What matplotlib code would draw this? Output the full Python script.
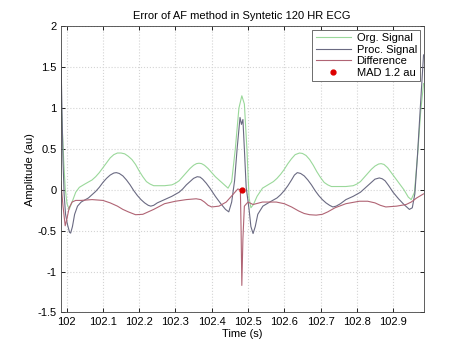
import matplotlib
matplotlib.use('Agg')
import matplotlib.pyplot as plt

plt.rcParams['font.family'] = ['Liberation Sans', 'DejaVu Sans']

# Org. Signal (green)
org_t = [101.984, 101.988, 101.992, 101.996, 102.001, 102.007, 102.015, 102.025, 102.035,
         102.05, 102.07, 102.08, 102.09, 102.10, 102.11, 102.12, 102.13, 102.14, 102.15,
         102.16, 102.17, 102.18, 102.19, 102.20, 102.21, 102.22, 102.23, 102.24, 102.27,
         102.29, 102.30, 102.31, 102.32, 102.33, 102.34, 102.35, 102.358, 102.365, 102.372,
         102.38, 102.39, 102.40, 102.41, 102.42, 102.435, 102.445, 102.455, 102.465,
         102.475, 102.483, 102.49, 102.497, 102.503, 102.508, 102.515, 102.525, 102.54,
         102.555, 102.57, 102.58, 102.59, 102.60, 102.61, 102.62, 102.63, 102.642, 102.65,
         102.66, 102.67, 102.68, 102.69, 102.70, 102.71, 102.72, 102.73, 102.77, 102.79,
         102.80, 102.81, 102.82, 102.83, 102.84, 102.85, 102.86, 102.867, 102.875,
         102.885, 102.895, 102.905, 102.915, 102.93, 102.942, 102.95, 102.959, 102.968,
         102.976, 102.984]
org_v = [1.17, 0.75, 0.35, 0.02, -0.17, -0.24, -0.15, -0.03, 0.03,
         0.07, 0.12, 0.16, 0.21, 0.27, 0.33, 0.39, 0.43, 0.45, 0.45,
         0.44, 0.41, 0.37, 0.31, 0.23, 0.16, 0.10, 0.07, 0.05, 0.05,
         0.06, 0.08, 0.11, 0.16, 0.21, 0.26, 0.30, 0.32, 0.325, 0.32,
         0.30, 0.26, 0.21, 0.16, 0.12, 0.06, 0.02, 0.1, 0.5,
         1.0, 1.15, 1.05, 0.5, -0.1, -0.22, -0.18, -0.08, 0.02,
         0.06, 0.10, 0.14, 0.19, 0.25, 0.32, 0.38, 0.43, 0.45, 0.445,
         0.42, 0.37, 0.30, 0.22, 0.15, 0.09, 0.06, 0.04, 0.04, 0.05,
         0.07, 0.10, 0.15, 0.20, 0.25, 0.29, 0.315, 0.32, 0.31,
         0.27, 0.21, 0.15, 0.09, 0.0, -0.09, -0.12, -0.03, 0.45,
         0.95, 1.3]

# Proc. Signal (dark gray-blue)
proc_t = [101.984, 101.987, 101.990, 101.993, 101.997, 102.002, 102.008, 102.011, 102.016,
          102.022, 102.03, 102.04, 102.06, 102.08, 102.09, 102.10, 102.11, 102.12, 102.13,
          102.137, 102.145, 102.155, 102.165, 102.175, 102.185, 102.195, 102.205, 102.215,
          102.225, 102.232, 102.24, 102.25, 102.27, 102.29, 102.31, 102.32, 102.33, 102.34,
          102.35, 102.36, 102.368, 102.375, 102.385, 102.395, 102.41, 102.425, 102.438,
          102.447, 102.455, 102.463, 102.47, 102.478, 102.482, 102.486, 102.49, 102.495,
          102.503, 102.508, 102.514, 102.52, 102.527, 102.541, 102.56, 102.58, 102.59,
          102.60, 102.61, 102.62, 102.628, 102.636, 102.645, 102.655, 102.665, 102.675,
          102.685, 102.695, 102.705, 102.715, 102.725, 102.734, 102.743, 102.755, 102.77,
          102.79, 102.81, 102.82, 102.83, 102.84, 102.85, 102.862, 102.87, 102.878,
          102.888, 102.90, 102.915, 102.93, 102.945, 102.953, 102.96, 102.967, 102.975,
          102.984]
proc_v = [1.70, 1.0, 0.35, -0.05, -0.3, -0.42, -0.52, -0.53, -0.45,
          -0.3, -0.2, -0.15, -0.1, -0.02, 0.03, 0.09, 0.14, 0.18, 0.205,
          0.21, 0.2, 0.17, 0.12, 0.06, -0.01, -0.07, -0.12, -0.16,
          -0.19, -0.2, -0.19, -0.16, -0.12, -0.08, -0.03, 0.01, 0.06, 0.1,
          0.14, 0.16, 0.155, 0.13, 0.08, 0.02, -0.08, -0.17, -0.24,
          -0.27, -0.15, 0.11, 0.5, 0.885, 0.80, 0.86, 0.5, 0.03,
          -0.24, -0.45, -0.535, -0.45, -0.3, -0.2, -0.15, -0.1, -0.06,
          -0.01, 0.05, 0.12, 0.18, 0.21, 0.2, 0.17, 0.12, 0.06,
          -0.01, -0.07, -0.12, -0.16, -0.19, -0.21, -0.2, -0.17, -0.12,
          -0.08, -0.03, 0.01, 0.05, 0.09, 0.13, 0.145, 0.135, 0.11,
          0.05, -0.03, -0.11, -0.18, -0.24, -0.22, -0.05, 0.4, 1.0,
          1.65]

# Difference (muted red)
diff_t = [101.984, 101.990, 101.996, 102.001, 102.007, 102.015, 102.025, 102.04, 102.07,
          102.10, 102.12, 102.14, 102.155, 102.17, 102.19, 102.21, 102.225, 102.24, 102.27,
          102.30, 102.33, 102.357, 102.37, 102.38, 102.39, 102.40, 102.42, 102.44, 102.46,
          102.472, 102.479, 102.481, 102.483, 102.486, 102.49, 102.50, 102.514, 102.54,
          102.578, 102.60, 102.62, 102.64, 102.655, 102.67, 102.688, 102.705, 102.72,
          102.74, 102.77, 102.807, 102.83, 102.85, 102.865, 102.88, 102.91, 102.936, 102.95,
          102.965, 102.984]
diff_v = [0.1, -0.2, -0.44, -0.35, -0.22, -0.15, -0.13, -0.13, -0.12,
          -0.13, -0.16, -0.2, -0.24, -0.27, -0.305, -0.3, -0.27, -0.24, -0.17,
          -0.14, -0.12, -0.11, -0.12, -0.15, -0.19, -0.21, -0.2, -0.15, -0.05,
          0.01, 0.0, -0.5, -1.17, -0.6, -0.2, -0.15, -0.18, -0.15,
          -0.15, -0.17, -0.21, -0.26, -0.29, -0.305, -0.31, -0.3, -0.27,
          -0.22, -0.17, -0.14, -0.14, -0.16, -0.19, -0.21, -0.2, -0.18, -0.15,
          -0.1, -0.05]

mad_t = [102.483]
mad_v = [0.0]
mad_label = 'MAD 1.2 au'

xticks = [102.0, 102.1, 102.2, 102.3, 102.4, 102.5, 102.6, 102.7, 102.8, 102.9]
xticklabels = ['102', '102.1', '102.2', '102.3', '102.4', '102.5', '102.6', '102.7', '102.8', '102.9']
yticks = [-1.5, -1, -0.5, 0, 0.5, 1, 1.5, 2]
yticklabels = ['-1.5', '-1', '-0.5', '0', '0.5', '1', '1.5', '2']

fig = plt.figure(figsize=(4.68, 3.51), dpi=100)
ax = fig.add_axes([0.13, 0.11, 0.775, 0.815])

ax.plot(org_t, org_v, color='#9ad89a', lw=0.8, label='Org. Signal')
ax.plot(proc_t, proc_v, color='#6a6a82', lw=0.8, label='Proc. Signal')
ax.plot(diff_t, diff_v, color='#b06474', lw=0.8, label='Difference')
ax.plot(mad_t, mad_v, 'o', color='#dd0000', ms=3.5, ls='none', label=mad_label)

ax.set_xlim(101.984, 102.984)
ax.set_ylim(-1.5, 2)
ax.set_xticks(xticks)
ax.set_xticklabels(xticklabels)
ax.set_yticks(yticks)
ax.set_yticklabels(yticklabels)
ax.grid(True, color='#d4d4d4', ls=':', lw=0.8)
ax.tick_params(direction='in', length=3, width=0.6, labelsize=8, top=True, right=True, pad=3)
for s in ax.spines.values():
    s.set_linewidth(0.6)
    s.set_color('#444444')

ax.set_title('Error of AF method in Syntetic 120 HR ECG', fontsize=8, pad=5)
ax.set_xlabel('Time (s)', fontsize=8, labelpad=2)
ax.set_ylabel('Amplitude (au)', fontsize=8, labelpad=2)

leg = ax.legend(loc='upper right', fontsize=8, handlelength=3.2, handletextpad=0.5,
                borderaxespad=0.3, borderpad=0.3, labelspacing=0.15, fancybox=False,
                framealpha=1, edgecolor='#555555')
leg.get_frame().set_linewidth(0.6)

fig.savefig('out.png', dpi=100)
